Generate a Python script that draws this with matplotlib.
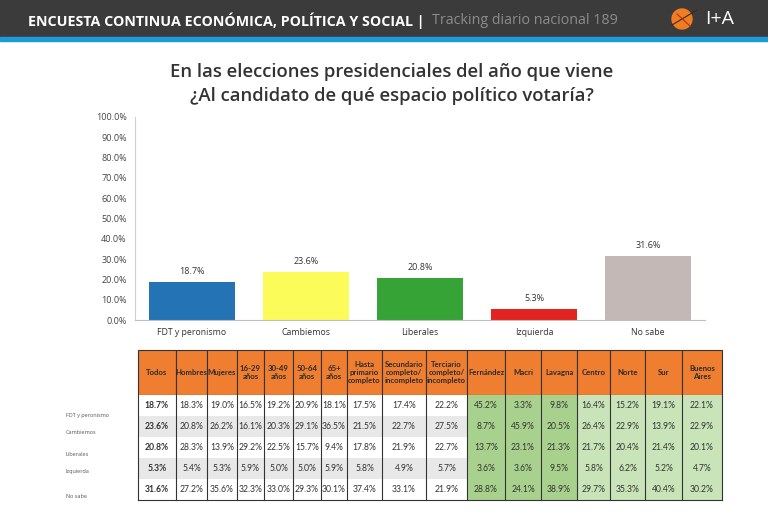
import matplotlib
matplotlib.use("Agg")
import matplotlib.pyplot as plt
from matplotlib.patches import Rectangle, Circle

plt.rcParams['font.family'] = ['Open Sans', 'DejaVu Sans']

# ---------------- data ----------------
categories = ["FDT y peronismo", "Cambiemos", "Liberales", "Izquierda", "No sabe"]
values = [18.7, 23.6, 20.8, 5.3, 31.6]
bar_colors = ["#2473b5", "#fbfb5a", "#35a336", "#e3231f", "#c3b8b5"]
yticks = [0, 10, 20, 30, 40, 50, 60, 70, 80, 90, 100]

col_headers = ["Todos", "Hombres", "Mujeres", "16-29\naños", "30-49\naños", "50-64\naños",
               "65+\naños", "Hasta\nprimario\ncompleto", "Secundario\ncompleto/\nincompleto",
               "Terciario\ncompleto/\nincompleto", "Fernández", "Macri", "Lavagna",
               "Centro", "Norte", "Sur", "Buenos\nAires"]
row_labels = ["FDT y peronismo", "Cambiemos", "Liberales", "Izquierda", "No sabe"]
table_values = [
    [18.7, 18.3, 19.0, 16.5, 19.2, 20.9, 18.1, 17.5, 17.4, 22.2, 45.2, 3.3, 9.8, 16.4, 15.2, 19.1, 22.1],
    [23.6, 20.8, 26.2, 16.1, 20.3, 29.1, 36.5, 21.5, 22.7, 27.5, 8.7, 45.9, 20.5, 26.4, 22.9, 13.9, 22.9],
    [20.8, 28.3, 13.9, 29.2, 22.5, 15.7, 9.4, 17.8, 21.9, 22.7, 13.7, 23.1, 21.3, 21.7, 20.4, 21.4, 20.1],
    [5.3, 5.4, 5.3, 5.9, 5.0, 5.0, 5.9, 5.8, 4.9, 5.7, 3.6, 3.6, 9.5, 5.8, 6.2, 5.2, 4.7],
    [31.6, 27.2, 35.6, 32.3, 33.0, 29.3, 30.1, 37.4, 33.1, 21.9, 28.8, 24.1, 38.9, 29.7, 35.3, 40.4, 30.2],
]

W, H = 768, 530
fig = plt.figure(figsize=(W / 100, H / 100), dpi=100)

# full-figure pixel canvas for header & table
bg = fig.add_axes([0, 0, 1, 1])
bg.set_xlim(0, W)
bg.set_ylim(H, 0)
bg.axis("off")

# header band
bg.add_patch(Rectangle((0, 0), W, 37, color="#3b3b3b", zorder=1))
bg.add_patch(Rectangle((0, 37), W, 4, color="#1d9ad7", zorder=1))
bg.text(28, 21, "ENCUESTA CONTINUA ECONÓMICA, POLÍTICA Y SOCIAL |", color="white",
        fontsize=10.3, fontweight="bold", va="center", ha="left", zorder=2)
bg.text(432, 21, "Tracking diario nacional 189", color="#8c8c8c",
        fontsize=10.3, va="center", ha="left", zorder=2)
bg.add_patch(Circle((682, 19), 10, color="#ef7d22", zorder=2))
bg.plot([672, 697], [25, 10], color="#3a2a20", lw=0.8, zorder=3)
bg.plot([677, 690], [14, 26], color="#b03020", lw=0.8, zorder=3)
bg.text(720, 19, "I+A", color="white", fontsize=14, va="center", ha="center", zorder=2)

# chart title
bg.text(392, 72, "En las elecciones presidenciales del año que viene", color="#333333",
        fontsize=13.3, fontweight=600, ha="center", va="center")
bg.text(392, 96, "¿Al candidato de qué espacio político votaría?", color="#333333",
        fontsize=13.3, fontweight=600, ha="center", va="center")

# ---------------- bar chart ----------------
ax = fig.add_axes([135 / W, 1 - 320 / H, 570 / W, (320 - 117) / H])
x = list(range(len(categories)))
bars = ax.bar(x, values, width=0.75, color=bar_colors, zorder=2)
for xi, v in zip(x, values):
    ax.text(xi, v + 3, f"{v:.1f}%", ha="center", va="bottom", fontsize=6.5, color="#333333")
ax.set_xlim(-0.5, len(categories) - 0.5)
ax.set_ylim(0, 100)
ax.set_yticks(yticks)
ax.set_yticklabels([f"{t:.1f}%" for t in yticks], fontsize=6.5, color="#444444")
ax.set_xticks(x)
ax.set_xticklabels(categories, fontsize=6.3, color="#333333")
ax.tick_params(axis="both", length=0, pad=6)
for s in ["top", "right"]:
    ax.spines[s].set_visible(False)
ax.spines["left"].set_color("#d0d0d0")
ax.spines["bottom"].set_color("#bfbfbf")

# ---------------- table ----------------
col_edges = [138, 176, 207, 237, 264, 293, 321, 347, 382, 426, 467, 505, 541, 577, 610, 645, 682, 722]
head_top, head_bot = 350, 395
row_h = 21
n_rows = len(row_labels)
orange = "#ef7e31"
green_dark = "#a9d18e"
green_light = "#c8e4b8"
gray_row = "#e8e8e8"
tfont = ["Lato", "DejaVu Sans"]

for j, hdr in enumerate(col_headers):
    x0, x1 = col_edges[j], col_edges[j + 1]
    bg.add_patch(Rectangle((x0, head_top), x1 - x0, head_bot - head_top,
                           facecolor=orange, edgecolor="#333333", lw=0.8, zorder=2))
    bg.text((x0 + x1) / 2, (head_top + head_bot) / 2, hdr, ha="center", va="center",
            fontsize=5.6, fontweight="bold", color="#2b2b2b", linespacing=1.2,
            family=tfont, zorder=3)

for i in range(n_rows):
    y0 = head_bot + i * row_h
    for j in range(len(col_headers)):
        x0, x1 = col_edges[j], col_edges[j + 1]
        if j >= 13:
            fc = green_light
        elif j >= 10:
            fc = green_dark
        else:
            fc = gray_row if i % 2 == 1 else "white"
        bg.add_patch(Rectangle((x0, y0), x1 - x0, row_h, facecolor=fc, edgecolor="none", zorder=2))
        v = table_values[i][j]
        bg.text((x0 + x1) / 2, y0 + row_h / 2, f"{v:.1f}%", ha="center", va="center",
                fontsize=6.2, color="#333333", family=tfont,
                fontweight="bold" if j == 0 else "normal", zorder=3)

# vertical lines and outer border
tab_bot = head_bot + n_rows * row_h
for xe in col_edges:
    bg.plot([xe, xe], [head_bot, tab_bot], color="#333333", lw=0.8, zorder=4)
bg.plot([col_edges[0], col_edges[-1]], [tab_bot, tab_bot], color="#333333", lw=0.8, zorder=4)

# row labels at the left
label_y = [415, 432, 455, 471, 496]
for lab, yy in zip(row_labels, label_y):
    bg.text(66, yy, lab, fontsize=4.0, color="#555555", ha="left", va="center")

fig.savefig("out.png", dpi=100)
